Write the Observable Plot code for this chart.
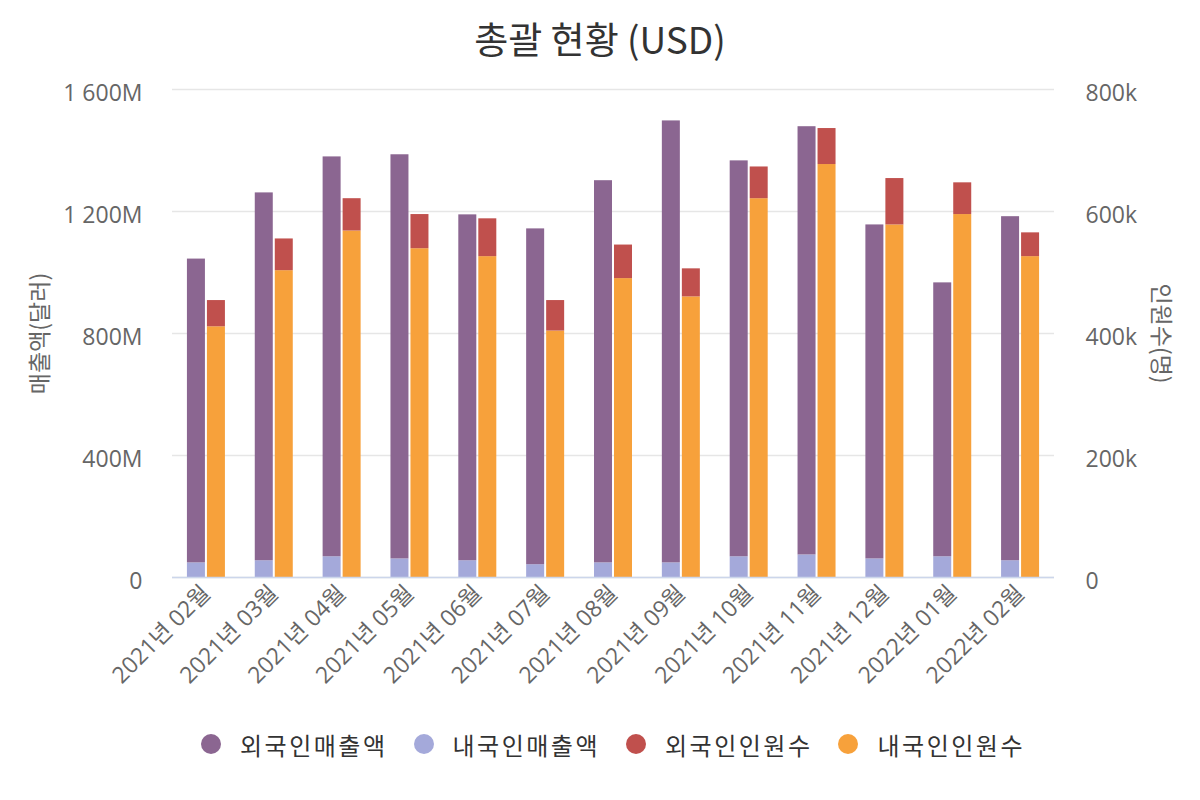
<!DOCTYPE html>
<html>
<head>
<meta charset="utf-8">
<script src="https://cdn.jsdelivr.net/npm/d3@7"></script>
<script src="https://cdn.jsdelivr.net/npm/@observablehq/plot@0.6"></script>
<style>
  html, body { margin: 0; padding: 0; background: #fff; }
  body { width: 1200px; height: 800px; overflow: hidden; font-family: 'Open Sans', 'Noto Sans CJK KR', sans-serif; }
  #title { height: 74px; line-height: 76px; text-align: center; font-size: 37px; color: #333; font-family: 'Noto Sans CJK KR', sans-serif; font-weight: 400; }
  #legend { height: 40px; display: flex; justify-content: center; align-items: center; padding-left: 26px; font-family: 'Noto Sans CJK KR', sans-serif; font-size: 24px; color: #333; font-weight: 400; letter-spacing: 2.5px; }
  .item { display: flex; align-items: center; margin: 0 13px; }
  .dot { width: 20px; height: 20px; border-radius: 50%; margin-right: 19px; }
</style>
</head>
<body>
<div id="title">총괄 현황 (USD)</div>
<div id="chart"></div>
<div id="legend"></div>
<script>
const months = ["2021년 02월","2021년 03월","2021년 04월","2021년 05월","2021년 06월","2021년 07월","2021년 08월","2021년 09월","2021년 10월","2021년 11월","2021년 12월","2022년 01월","2022년 02월"];
const seriesNames = ["외국인매출액","내국인매출액","외국인인원수","내국인인원수"];
const seriesColors = ["#8b6691","#a4a9da","#c0504d","#f7a13b"];
// USD
const foreignSales = [996e6,1206e6,1311e6,1325e6,1134e6,1101e6,1253e6,1449e6,1298e6,1404e6,1095e6,898e6,1128e6];
const domesticSales = [48e6,55e6,68e6,61e6,55e6,42e6,48e6,48e6,68e6,74e6,61e6,68e6,55e6];
// persons
const foreignPeople = [43e3,52e3,53e3,56e3,62e3,50e3,55e3,46e3,52e3,59e3,76e3,52e3,39e3];
const domesticPeople = [411e3,503e3,568e3,539e3,526e3,404e3,490e3,460e3,621e3,677e3,578e3,595e3,526e3];
const leftTicks = [0, 400e6, 800e6, 1200e6, 1600e6];
const ratio = 1600e6 / 800e3; // right axis -> left axis

const sales = [];
months.forEach((m, i) => sales.push({month: m, series: "내국인매출액", value: domesticSales[i]}));
months.forEach((m, i) => sales.push({month: m, series: "외국인매출액", value: foreignSales[i]}));
const people = [];
months.forEach((m, i) => people.push({month: m, series: "내국인인원수", value: domesticPeople[i]}));
months.forEach((m, i) => people.push({month: m, series: "외국인인원수", value: foreignPeople[i]}));

const fmtLeft = d => d === 0 ? "0" : d3.format(",")(d / 1e6).replace(/,/g, " ") + "M";
const fmtRight = d => d === 0 ? "0" : (d / ratio / 1e3) + "k";

const W = 1200, H = 650, mL = 172, mR = 146, mT = 15, mB = 147;
const bw = (W - mL - mR) / months.length;
const half = bw / 2;

const chart = Plot.plot({
  width: W, height: H,
  marginLeft: mL, marginRight: mR, marginTop: mT, marginBottom: mB,
  style: {fontFamily: "'Open Sans','Noto Sans CJK KR',sans-serif", fontSize: "23px", color: "#666", background: "#fff"},
  x: {type: "band", domain: months, padding: 0, round: false},
  y: {domain: [0, 1600e6]},
  color: {domain: seriesNames, range: seriesColors},
  marks: [
    Plot.gridY(leftTicks, {stroke: "#e6e6e6", strokeOpacity: 1, strokeWidth: 1.5}),
    Plot.barY(sales, Plot.stackY({x: "month", y: "value", fill: "series", order: null,
      insetLeft: half - 19, insetRight: half + 1})),
    Plot.barY(people, Plot.stackY({x: "month", y: d => d.value * ratio, fill: "series", order: null,
      insetLeft: half + 1, insetRight: half - 19})),
    Plot.ruleY([0], {stroke: "#ccd6eb", strokeWidth: 1.5}),
    Plot.axisY(leftTicks, {anchor: "left", tickSize: 0, tickPadding: 30, dy: 4, tickFormat: fmtLeft, label: null, fontSize: 23}),
    Plot.axisY(leftTicks, {anchor: "right", tickSize: 0, tickPadding: 31, dy: 4, tickFormat: fmtRight, label: null, fontSize: 23}),
    Plot.axisX({tickSize: 0, tickRotate: -45, tickPadding: 12, label: null, fontSize: 23}),
    Plot.text(["매출액(달러)"], {frameAnchor: "left", textAnchor: "middle", dx: -132, rotate: -90, fill: "#666", fontSize: 23, fontFamily: "'Noto Sans CJK KR',sans-serif", letterSpacing: "1px"}),
    Plot.text(["인원수(명)"], {frameAnchor: "right", textAnchor: "middle", dx: 106, rotate: 90, fill: "#666", fontSize: 23, fontFamily: "'Noto Sans CJK KR',sans-serif"})
  ]
});
document.getElementById("chart").appendChild(chart);

const legend = document.getElementById("legend");
seriesNames.forEach((s, i) => {
  const it = document.createElement("div");
  it.className = "item";
  it.innerHTML = `<span class="dot" style="background:${seriesColors[i]}"></span><span>${s}</span>`;
  legend.appendChild(it);
});
</script>
</body>
</html>
